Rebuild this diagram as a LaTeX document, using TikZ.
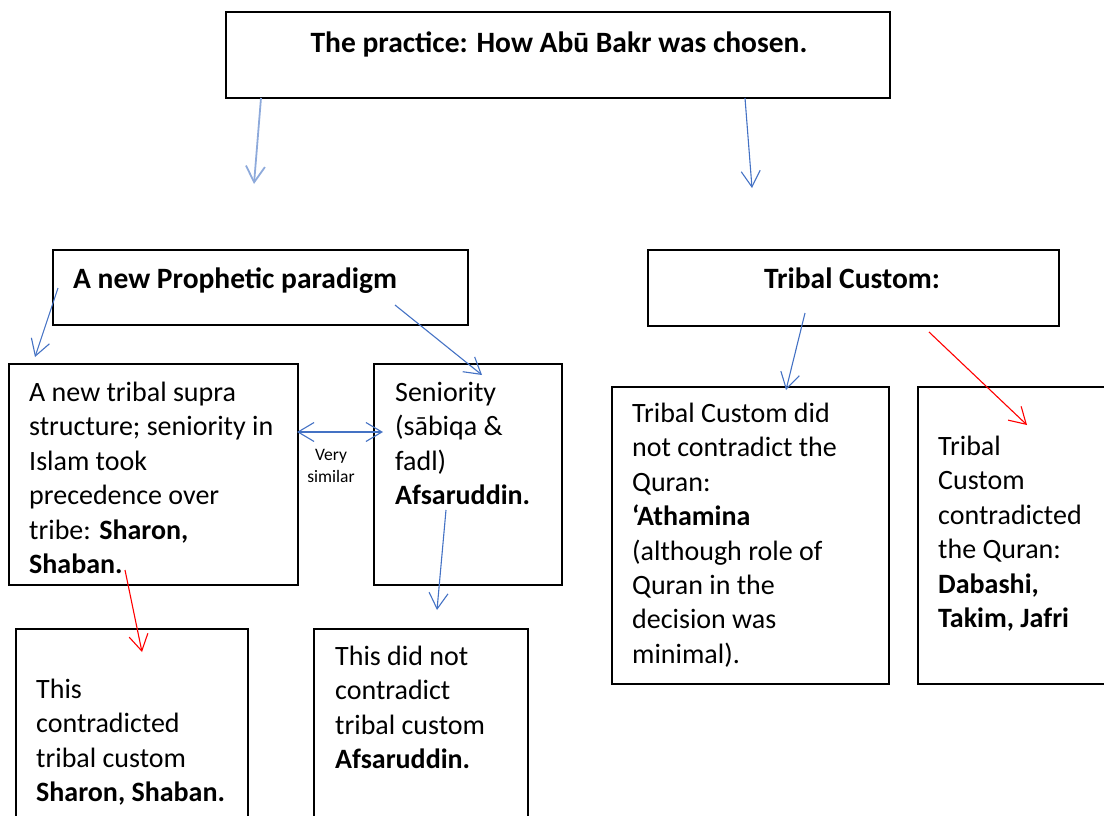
\documentclass[tikz,border=0pt]{standalone}
\usepackage{fontspec}
\setmainfont{Carlito}
\usetikzlibrary{arrows.meta}
\definecolor{linkblue}{HTML}{4472C4}
\definecolor{paleblue}{HTML}{8EAADB}

\begin{document}
\begin{tikzpicture}[x=1pt, y=-1pt,
  box/.style={draw, line width=1.6pt, anchor=north west, inner sep=0pt},
  body/.style={anchor=north west, inner sep=0pt, text width=280pt, align=flush left,
               font=\fontsize{28}{34.4}\selectfont, execute at begin node=\strut},
  head/.style={inner sep=0pt, font=\fontsize{29.5}{34.4}\selectfont\bfseries},
  flow/.style={-{Straight Barb[length=16pt, width=19pt]}, draw=linkblue, line width=1.1pt},
  redflow/.style={flow, draw=red},
  small/.style={inner sep=0pt, align=center, font=\fontsize{17.5}{21.5}\selectfont}
]
\useasboundingbox (0,0) rectangle (1104,816);
\clip (0,0) rectangle (1104,816);

% boxes
\node[box, minimum width=664pt, minimum height=86pt] (title) at (225,11) {};
\node[box, minimum width=415pt, minimum height=75pt] (prophetic) at (52,249) {};
\node[box, minimum width=411pt, minimum height=76pt] (tribal) at (647,249) {};
\node[box, minimum width=289pt, minimum height=221pt] (supra) at (8,363) {};
\node[box, minimum width=188pt, minimum height=221pt] (seniority) at (373,363) {};
\node[box, minimum width=277pt, minimum height=297pt] (nocontra) at (611,386) {};
\node[box, minimum width=220pt, minimum height=297pt] (contra) at (917,386) {};
\node[box, minimum width=232pt, minimum height=220pt] (supracontra) at (15,628) {};
\node[box, minimum width=214pt, minimum height=220pt] (seniornot) at (313,628) {};

% texts
\node[head, anchor=base] (titletxt) at (559,52.4) {The practice: How Abū Bakr was chosen.};
\node[head, anchor=base west] (prophetictxt) at (73,288.4) {A new Prophetic paradigm};
\node[head, anchor=base] (tribaltxt) at (852,288.4) {Tribal Custom:};
\node[body] (supratxt) at (29,377.3) {A new tribal supra\\structure; seniority in\\Islam took\\precedence over\\tribe: \textbf{Sharon,}\\\textbf{Shaban.}};
\node[body] (seniortxt) at (395,377.3) {Seniority\\(sābiqa \&\\fadl)\\\textbf{Afsaruddin.}};
\node[body] (nocontratxt) at (632,398.3) {Tribal Custom did\\not contradict the\\Quran:\\\textbf{‘Athamina}\\(although role of\\Quran in the\\decision was\\minimal).};
\node[body] (contratxt) at (938,431.3) {Tribal\\Custom\\contradicted\\the Quran:\\\textbf{Dabashi,}\\\textbf{Takim, Jafri}};
\node[body] (supracontratxt) at (36,674.3) {This\\contradicted\\tribal custom\\\textbf{Sharon, Shaban.}};
\node[body] (seniornottxt) at (335,641.3) {This did not\\contradict\\tribal custom\\\textbf{Afsaruddin.}};

% arrow ends
\coordinate (t1) at (261,98);   \coordinate (p0) at (254,184);
\coordinate (t2) at (745,98);   \coordinate (r0) at (752,188);
\coordinate (p1) at (58,288);   \coordinate (s1) at (35,357);
\coordinate (p2) at (395,305);  \coordinate (s2) at (482,375);
\coordinate (s3) at (446,510);  \coordinate (n3) at (437,610);
\coordinate (s4) at (125,570);  \coordinate (n4) at (142,652);
\coordinate (r1) at (805,313);  \coordinate (c1) at (786,390);
\coordinate (r2) at (929,332);  \coordinate (c2) at (1027,425);
\coordinate (simL) at (297,432); \coordinate (simR) at (383,432);

\draw[flow, draw=paleblue, line width=1.8pt] (t1) -- (p0);
\draw[flow] (t2) -- (r0);
\draw[flow] (p1) -- (s1);
\draw[flow] (p2) -- (s2);
\draw[flow] (s3) -- (n3);
\draw[redflow] (s4) -- (n4);
\draw[flow] (r1) -- (c1);
\draw[redflow] (r2) -- (c2);
\draw[flow, {Straight Barb[length=16pt, width=19pt]}-{Straight Barb[length=16pt, width=19pt]}] (simL) -- (simR);
\node[small] (similar) at (331,466) {Very\\similar};
\end{tikzpicture}
\end{document}
